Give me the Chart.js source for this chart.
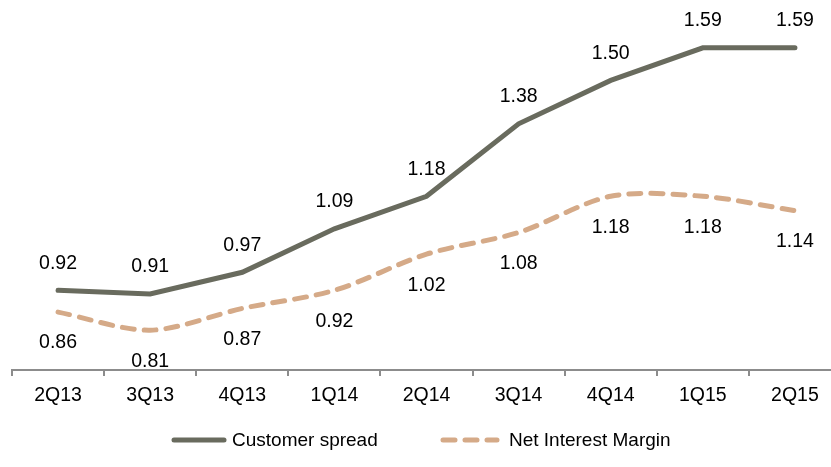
<!DOCTYPE html>
<html>
<head>
<meta charset="utf-8">
<script src="https://cdn.jsdelivr.net/npm/chart.js@4/dist/chart.umd.min.js"></script>
<style>
  html, body { margin: 0; padding: 0; background: #fff; overflow: hidden; }
  #wrap { position: relative; width: 843px; height: 467px; }
</style>
</head>
<body>
<div id="wrap"><canvas id="spreadChart"></canvas></div>
<script>
// Dados do gráfico
const quarters = ['2Q13', '3Q13', '4Q13', '1Q14', '2Q14', '3Q14', '4Q14', '1Q15', '2Q15'];
const customerSpread = [0.92, 0.91, 0.97, 1.09, 1.18, 1.38, 1.50, 1.59, 1.59];
const netInterestMargin = [0.86, 0.81, 0.87, 0.92, 1.02, 1.08, 1.18, 1.18, 1.14];

const spreadColor = '#696b5e';
const nimColor = '#d5aa88';
const fontFamily = '"Liberation Sans", Arial, sans-serif';

// Rótulos de valores: acima para o spread, abaixo para a margem
const valueLabels = {
    id: 'valueLabels',
    afterDatasetsDraw(chart) {
        const ctx = chart.ctx;
        ctx.save();
        ctx.font = '19.5px ' + fontFamily;
        ctx.fillStyle = '#000';
        ctx.textAlign = 'center';
        ctx.textBaseline = 'middle';
        chart.data.datasets.forEach((ds, i) => {
            const meta = chart.getDatasetMeta(i);
            const offset = i === 0 ? -27 : 31;
            meta.data.forEach((pt, j) => {
                ctx.fillText(ds.data[j].toFixed(2), pt.x, pt.y + offset);
            });
        });
        ctx.restore();
    }
};

// Legenda desenhada à mão, na posição do original
const bottomLegend = {
    id: 'bottomLegend',
    afterDraw(chart) {
        const ctx = chart.ctx;
        const y = 440;
        ctx.save();
        ctx.lineWidth = 5;
        ctx.lineCap = 'round';
        ctx.strokeStyle = spreadColor;
        ctx.beginPath();
        ctx.moveTo(174, y);
        ctx.lineTo(224, y);
        ctx.stroke();
        ctx.strokeStyle = nimColor;
        ctx.setLineDash([12, 10]);
        ctx.beginPath();
        ctx.moveTo(443, y);
        ctx.lineTo(497, y);
        ctx.stroke();
        ctx.setLineDash([]);
        ctx.font = '19px ' + fontFamily;
        ctx.fillStyle = '#000';
        ctx.textBaseline = 'middle';
        ctx.fillText('Customer spread', 232, y + 1);
        ctx.fillText('Net Interest Margin', 509, y + 1);
        ctx.restore();
    }
};

const chart = new Chart(document.getElementById('spreadChart').getContext('2d'), {
    type: 'line',
    data: {
        labels: quarters,
        datasets: [{
            label: 'Customer spread',
            data: customerSpread,
            borderColor: spreadColor,
            borderWidth: 5,
            tension: 0,
            pointRadius: 0,
            borderCapStyle: 'round',
            borderJoinStyle: 'miter'
        }, {
            label: 'Net Interest Margin',
            data: netInterestMargin,
            borderColor: nimColor,
            borderWidth: 5,
            borderDash: [12, 10],
            borderCapStyle: 'round',
            tension: 0.3,
            pointRadius: 0
        }]
    },
    options: {
        responsive: true,
        maintainAspectRatio: false,
        animation: false,
        layout: { padding: { left: 12, right: 2, top: 8, bottom: 0 } },
        plugins: {
            legend: { display: false },
            tooltip: { enabled: false }
        },
        scales: {
            x: {
                offset: true,
                grid: {
                    offset: true,
                    drawOnChartArea: false,
                    drawTicks: true,
                    tickLength: 6,
                    color: '#8c8c8c',
                    lineWidth: 2
                },
                border: { color: '#8c8c8c', width: 2 },
                ticks: {
                    color: '#000',
                    padding: 8,
                    font: { family: fontFamily, size: 19.5 }
                },
                afterFit(scale) { scale.height = 97; }
            },
            y: {
                display: false,
                min: 0.7,
                max: 1.7
            }
        }
    },
    plugins: [valueLabels, bottomLegend]
});
</script>
</body>
</html>
